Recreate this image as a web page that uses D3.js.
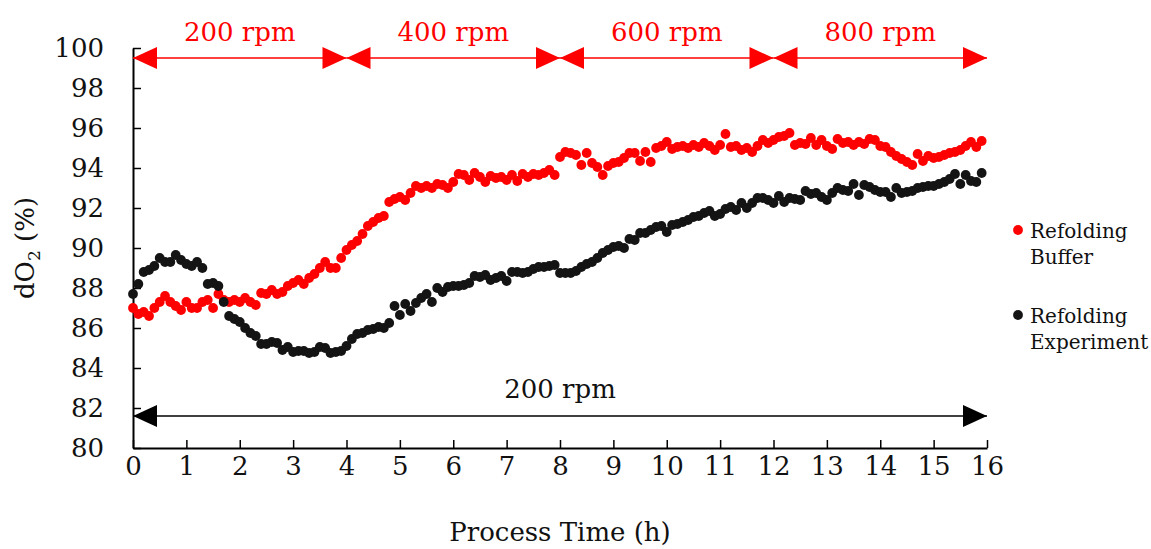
<!DOCTYPE html>
<html><head><meta charset="utf-8">
<script src="https://cdn.jsdelivr.net/npm/d3@7"></script>
<style>body{margin:0;background:#fff}svg{display:block}</style>
</head><body>
<svg id="chart" width="1151" height="549"></svg>
<script>
// ---- data ----
const timeStep = 0.1; // h between samples
const bufferValues = [
87.0,86.7,86.8,86.6,87.0,87.3,87.6,87.3,87.1,86.9,
87.3,87.0,87.0,87.3,87.4,87.0,87.7,87.4,87.3,87.4,
87.3,87.5,87.3,87.15,87.75,87.7,87.9,87.7,87.8,88.1,
88.25,88.4,88.2,88.5,88.7,89.0,89.3,89.0,89.0,89.5,
89.9,90.15,90.35,90.7,91.1,91.3,91.5,91.6,92.3,92.45,
92.55,92.4,92.75,93.1,93.0,93.1,93.0,93.2,93.15,93.0,
93.3,93.7,93.65,93.4,93.75,93.55,93.3,93.6,93.5,93.55,
93.4,93.65,93.35,93.7,93.55,93.7,93.65,93.75,93.9,93.65,
94.55,94.8,94.75,94.65,94.15,94.75,94.25,94.05,93.65,94.1,
94.25,94.3,94.5,94.75,94.75,94.35,94.8,94.3,95.0,95.1,
95.3,94.95,95.05,95.1,95.0,95.15,95.05,95.25,95.1,94.9,
95.15,95.7,95.05,95.1,94.9,95.0,94.8,95.1,95.4,95.25,
95.4,95.55,95.6,95.75,95.15,95.25,95.2,95.5,95.15,95.4,
95.1,94.95,95.45,95.25,95.3,95.15,95.3,95.2,95.45,95.4,
95.1,95.05,94.8,94.6,94.45,94.3,94.15,94.7,94.35,94.6,
94.5,94.55,94.65,94.75,94.8,94.9,95.1,95.3,95.05,95.35
];
const experimentValues = [
87.7,88.2,88.8,88.9,89.1,89.5,89.3,89.3,89.65,89.4,
89.2,89.1,89.3,89.0,88.2,88.25,88.1,87.3,86.6,86.45,
86.3,86.0,85.75,85.6,85.2,85.2,85.3,85.25,84.9,85.05,
84.8,84.85,84.85,84.75,84.8,85.05,85.0,84.75,84.8,84.85,
85.1,85.45,85.7,85.75,85.9,85.95,86.05,86.0,86.25,87.1,
86.65,87.2,86.85,87.25,87.5,87.7,87.3,88.0,87.8,88.05,
88.1,88.1,88.15,88.25,88.6,88.55,88.65,88.4,88.5,88.6,
88.35,88.8,88.8,88.75,88.8,88.95,89.05,89.05,89.1,89.15,
88.75,88.75,88.75,88.85,89.05,89.2,89.3,89.5,89.75,89.9,
90.05,90.1,90.0,90.45,90.4,90.75,90.75,90.9,91.05,91.1,
90.8,91.15,91.2,91.3,91.4,91.55,91.6,91.75,91.85,91.6,
91.7,91.95,92.05,91.9,92.25,92.0,92.25,92.5,92.5,92.4,
92.25,92.6,92.3,92.5,92.45,92.4,92.85,92.7,92.75,92.55,
92.4,92.75,93.0,92.9,92.85,93.2,92.65,93.15,93.05,92.9,
92.8,92.8,92.55,93.0,92.75,92.8,92.85,93.0,93.05,93.1,
93.1,93.2,93.3,93.45,93.7,93.2,93.65,93.35,93.3,93.75
];
const seriesNames = ["Refolding Buffer", "Refolding Experiment"];
const seriesColors = ["#ff0000", "#141414"];
const xTicks = [0,1,2,3,4,5,6,7,8,9,10,11,12,13,14,15,16];
const yTicks = [80,82,84,86,88,90,92,94,96,98,100];
const phaseStarts = [0,4,8,12];
const phaseEnds = [4,8,12,16];
const phaseLabels = ["200 rpm","400 rpm","600 rpm","800 rpm"];
const bottomLabel = "200 rpm";

// ---- layout ----
const FONT = "'DejaVu Serif', serif";
const svg = d3.select("#chart");
const m = {left:133, right:1151-987, top:48, bottom:549-448};
const W = 1151, H = 549;
const x = d3.scaleLinear().domain([0,16]).range([m.left, W-m.right]);
const y = d3.scaleLinear().domain([80,100]).range([H-m.bottom, m.top]);

// axes
const yAxis = d3.axisLeft(y).tickValues(yTicks).tickSizeInner(-8).tickSizeOuter(0).tickPadding(29);
const gy = svg.append("g").attr("transform",`translate(${m.left},0)`).call(yAxis);
const xAxis = d3.axisBottom(x).tickValues(xTicks).tickSizeInner(-8).tickSizeOuter(0).tickPadding(9);
const gx = svg.append("g").attr("transform",`translate(0,${H-m.bottom})`).call(xAxis);
[gx,gy].forEach(g=>{
  g.selectAll("path.domain").attr("stroke","#000").attr("stroke-width",2);
  g.selectAll(".tick line").attr("stroke","#000").attr("stroke-width",1.5);
  g.selectAll("text").attr("font-family",FONT).attr("font-size",26).attr("fill","#111");
});

// data points
const allSeries = [bufferValues, experimentValues];
allSeries.forEach((vals,si)=>{
  svg.append("g").selectAll("circle").data(vals).join("circle")
    .attr("cx",(d,i)=>x(i*timeStep))
    .attr("cy",d=>y(d))
    .attr("r",4.9)
    .attr("fill",seriesColors[si]);
});

// arrows
function arrow(t0,t1,val,color){
  const g = svg.append("g");
  const yy = y(val), x0 = x(t0), x1 = x(t1), L = 24, h = 11;
  g.append("line").attr("x1",x0).attr("x2",x1).attr("y1",yy).attr("y2",yy)
   .attr("stroke",color).attr("stroke-width",1.5);
  g.append("path").attr("d",`M${x0},${yy}L${x0+L},${yy-h}L${x0+L},${yy+h}Z`).attr("fill",color);
  g.append("path").attr("d",`M${x1},${yy}L${x1-L},${yy-h}L${x1-L},${yy+h}Z`).attr("fill",color);
}
phaseStarts.forEach((s,i)=>{
  arrow(s, phaseEnds[i], 99.5, "#ff0000");
  svg.append("text").attr("x",x((s+phaseEnds[i])/2)).attr("y",41)
    .attr("text-anchor","middle").attr("font-family",FONT).attr("font-size",26)
    .attr("fill","#ff0000").text(phaseLabels[i]);
});
arrow(0,16,81.6,"#000");
svg.append("text").attr("x",x(8)).attr("y",398).attr("text-anchor","middle")
  .attr("font-family",FONT).attr("font-size",26).attr("fill","#111").text(bottomLabel);

// axis titles
svg.append("text").attr("x",x(8)).attr("y",541).attr("text-anchor","middle")
  .attr("font-family",FONT).attr("font-size",26).attr("fill","#111").text("Process Time (h)");
const yl = svg.append("text").attr("transform",`translate(34,${y(90)}) rotate(-90)`)
  .attr("text-anchor","middle").attr("font-family",FONT).attr("font-size",26).attr("fill","#111");
yl.append("tspan").text("dO");
yl.append("tspan").attr("font-size",17).attr("dy",6).text("2");
yl.append("tspan").attr("dy",-6).text(" (%)");

// legend
const legY = [230, 315];
seriesNames.forEach((n,i)=>{
  const words = n.split(" ");
  svg.append("circle").attr("cx",1018).attr("cy",legY[i]).attr("r",4.9).attr("fill",seriesColors[i]);
  const t = svg.append("text").attr("x",1030).attr("y",legY[i]+8)
    .attr("font-family",FONT).attr("font-size",20).attr("fill","#111");
  t.append("tspan").attr("x",1030).text(words[0]);
  t.append("tspan").attr("x",1030).attr("dy",26).text(words[1]);
});
</script>
</body></html>
